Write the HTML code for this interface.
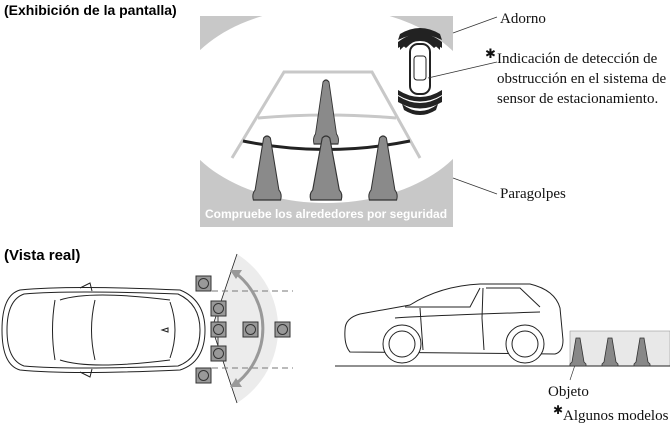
<!DOCTYPE html><html><head><style>body{margin:0;background:#fff;width:670px;height:426px;overflow:hidden}</style></head><body>
<svg width="670" height="426" viewBox="0 0 670 426" xmlns="http://www.w3.org/2000/svg">
<defs><clipPath id="scr"><rect x="200" y="16" width="253" height="211"/></clipPath>
<g id="cone"><path d="M-4,0 Q0,-4 4,0 L14,52 Q18,56 16,62 L-16,62 Q-18,56 -14,52 Z" fill="#8a8a8a" stroke="#333" stroke-width="1.2"/></g>
<g id="sc"><path d="M-2,0 L2,0 L6,24 L8,26 L8,28 L-8,28 L-8,26 L-6,24Z" fill="#888" stroke="#333" stroke-width="0.8"/></g>
</defs>
<text x="4" y="15" font-family="Liberation Sans" font-weight="bold" font-size="14">(Exhibición de la pantalla)</text>
<text x="4" y="260" font-family="Liberation Sans" font-weight="bold" font-size="15">(Vista real)</text>
<g clip-path="url(#scr)">
<rect x="200" y="16" width="253" height="211" fill="#c8c8c8"/>
<ellipse cx="326" cy="105" rx="152" ry="98" fill="#fff"/>
<path d="M232,158 L284,72 L372,72 L420,158" fill="none" stroke="#c8c8c8" stroke-width="3"/>
<path d="M258,118 Q326,112 396,118" fill="none" stroke="#c8c8c8" stroke-width="3"/>
<use href="#cone" transform="translate(326,82) scale(0.75,1)"/>
<path d="M243,141 Q326,158 410,141" fill="none" stroke="#222" stroke-width="3"/>
<use href="#cone" transform="translate(267,138) scale(0.85,1)"/>
<use href="#cone" transform="translate(326,138) scale(0.95,1)"/>
<use href="#cone" transform="translate(383,138) scale(0.85,1)"/>
<text x="326" y="218" text-anchor="middle" font-family="Liberation Sans" font-weight="bold" font-size="12" fill="#fff">Compruebe los alrededores por seguridad</text>
<g fill="#222">
<path d="M400,50 Q420,30 440,50 L440,46 Q420,26 400,46Z"/>
<path d="M402,45 Q420,22 438,45 L434,48 Q420,33 406,48Z"/>
<path d="M398,42 Q420,25 442,42 L442,48 Q420,34 398,48Z"/>
<path d="M400,34 Q420,22 440,34 L442,40 Q420,29 398,40Z"/>
<path d="M398,96 Q420,110 442,96 L442,102 Q420,115 398,102Z"/>
<path d="M402,104 Q420,118 438,104 L436,110 Q420,120 404,110Z"/>
<path d="M398,90 Q420,104 442,90 L442,95 Q420,108 398,95Z"/>
</g>
<rect x="410" y="44" width="20" height="50" rx="8" fill="#fff" stroke="#222" stroke-width="2"/>
<rect x="414" y="56" width="12" height="24" rx="3" fill="none" stroke="#222" stroke-width="1"/>
</g>
<g stroke="#333" stroke-width="0.8">
<line x1="453" y1="33" x2="497" y2="17"/><line x1="428" y1="78" x2="497" y2="62"/><line x1="453" y1="178" x2="497" y2="194"/>
</g>
<g font-family="Liberation Serif" font-size="15" fill="#111">
<text x="500" y="23">Adorno</text>
<text x="485" y="58" font-size="13">✱</text>
<text x="497" y="63">Indicación de detección de</text>
<text x="497" y="83">obstrucción en el sistema de</text>
<text x="497" y="103">sensor de estacionamiento.</text>
<text x="500" y="198">Paragolpes</text>
<text x="548" y="396">Objeto</text>
<text x="553" y="414" font-size="12">✱</text>
<text x="563" y="420">Algunos modelos</text>
</g>
<!-- top view -->
<path d="M237,254 L212,328 L237,403 A88,88 0 0 0 237,254Z" fill="#ececec"/>
<path d="M237,254 L212,328 L237,403" fill="none" stroke="#222" stroke-width="0.8"/>
<g stroke="#777" stroke-dasharray="6,4"><line x1="212" y1="291" x2="293" y2="291"/><line x1="212" y1="368" x2="293" y2="368"/></g>
<path d="M238,275 A70,70 0 0 1 238,382" fill="none" stroke="#999" stroke-width="3"/>
<path d="M230,270 L242,270 L236,279Z M230,387 L242,387 L236,378Z" fill="#999"/>
<line x1="218" y1="303" x2="218" y2="355" stroke="#444"/>
<g fill="#999" stroke="#333">
<rect x="196" y="276" width="15" height="15"/><rect x="211" y="301" width="15" height="15"/><rect x="211" y="322" width="15" height="15"/><rect x="243" y="322" width="15" height="15"/><rect x="275" y="322" width="15" height="15"/><rect x="211" y="346" width="15" height="15"/><rect x="196" y="368" width="15" height="15"/>
</g>
<g fill="none" stroke="#333"><circle cx="203.5" cy="283.5" r="5"/><circle cx="218.5" cy="308.5" r="5"/><circle cx="218.5" cy="329.5" r="5"/><circle cx="250.5" cy="329.5" r="5"/><circle cx="282.5" cy="329.5" r="5"/><circle cx="218.5" cy="353.5" r="5"/><circle cx="203.5" cy="375.5" r="5"/></g>
<g fill="none" stroke="#222" stroke-width="1">
<path d="M20,290 Q70,285 180,290 Q205,300 205,330 Q205,362 180,370 Q70,375 20,370 Q2,365 2,330 Q2,295 20,290Z"/>
<path d="M24,294 Q70,290 178,294 Q200,304 200,330 Q200,358 178,366 Q70,370 24,366 Q7,360 7,330 Q7,300 24,294Z"/>
<path d="M60,300 Q90,290 170,300 M60,360 Q90,370 170,360"/>
<path d="M55,300 Q50,330 55,360"/><path d="M95,300 Q88,330 95,360"/><path d="M170,302 Q180,330 170,358"/>
<path d="M80,288 L90,283 L92,291 M80,372 L90,377 L92,369"/>
<path d="M162,330 L168,328 L168,332Z"/>
</g>
<!-- side view -->
<rect x="570" y="331" width="100" height="35" fill="#e8e8e8" stroke="#999" stroke-width="0.6"/>
<line x1="335" y1="366" x2="670" y2="366" stroke="#222" stroke-width="1"/>
<g fill="none" stroke="#222" stroke-width="1">
<path d="M345,330 Q345,318 360,314 L410,305 Q440,286 480,284 L530,284 Q555,290 560,308 L563,340 Q563,352 555,354 L350,352 Q344,345 345,330Z"/>
<path d="M405,307 L470,307 L480,288 M483,288 L482,318 M486,288 L520,288 L540,307"/>
<path d="M420,308 L423,350 M482,318 L484,350 M395,318 Q420,316 540,312"/>
<circle cx="402" cy="344" r="19" fill="#fff"/><circle cx="402" cy="344" r="13"/>
<circle cx="525" cy="344" r="19" fill="#fff"/><circle cx="525" cy="344" r="13"/>
<line x1="575" y1="365" x2="570" y2="380" stroke-width="0.6"/>
</g>
<use href="#sc" transform="translate(578,338)"/><use href="#sc" transform="translate(610,338)"/><use href="#sc" transform="translate(642,338)"/>
</svg></body></html>
